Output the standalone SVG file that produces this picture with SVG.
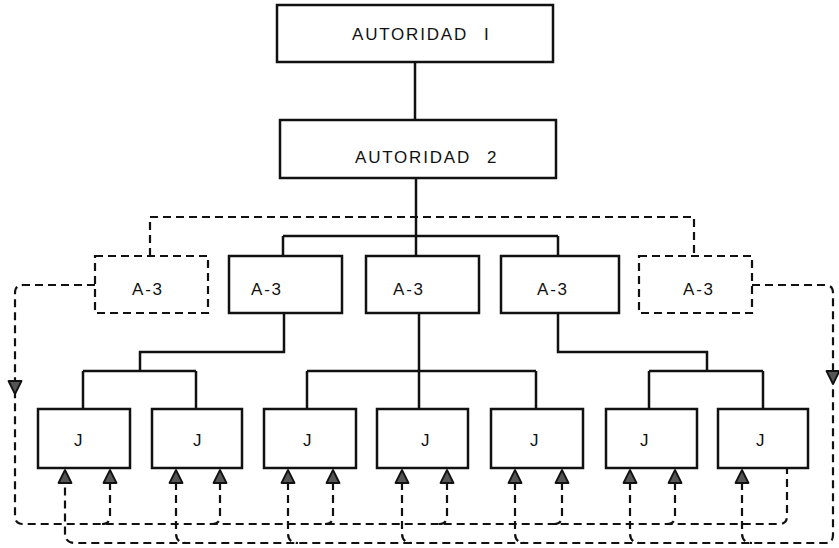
<svg xmlns="http://www.w3.org/2000/svg" width="839" height="548" viewBox="0 0 839 548">
  <style>
    .box { fill: #fff; stroke: #111; stroke-width: 2.5; }
    .dbox { fill: #fff; stroke: #111; stroke-width: 2.2; stroke-dasharray: 8 5; }
    .line { fill: none; stroke: #111; stroke-width: 2.5; }
    .dash { fill: none; stroke: #111; stroke-width: 2.2; stroke-dasharray: 8 5; }
    .lbl { font-family: "Liberation Sans", Arial, sans-serif; font-size: 17px; fill: #111; letter-spacing: 1.8px; }
    .head { fill: #555; stroke: #111; stroke-width: 1.8; stroke-linejoin: round; }
  </style>
  <defs>
    <!-- arrowheads drawn around their tip at (0,0) -->
    <polygon id="up" class="head" points="0,0 -6.5,13 6.5,13"/>
    <polygon id="down" class="head" points="0,0 -6.5,-13 6.5,-13"/>
  </defs>
  <rect width="839" height="548" fill="#fff"/>

  <g id="connectors">
    <!-- solid hierarchy lines -->
    <path class="line" d="M415,62 V120"/>
    <path class="line" d="M416,178 V256"/>
    <path class="line" d="M283,236 H558 M283,236 V256 M558,236 V256"/>
    <path class="line" d="M284,313 V352 H140 V371 M83,371 H196 M83,371 V409 M196,371 V409"/>
    <path class="line" d="M419,313 V409 M307,371 H536 M307,371 V409 M536,371 V409"/>
    <path class="line" d="M558,313 V352 H707 V371 M649,371 H763 M649,371 V409 M763,371 V409"/>
    <!-- dashed staff links -->
    <path class="dash" d="M150,256 V217 H694 V256"/>
    <path class="dash" d="M95,285 H23 Q15,285 15,293 V516 Q15,524 23,524 H779 Q787,524 787,516 V468"/>
    <path class="dash" d="M752,285 H825 Q833,285 833,293 V535 Q833,543 825,543 H75 Q65,543 65,533 V482"/>
    <!-- returns into the J boxes -->
    <path class="dash" d="M110,482 V516 Q110,524 102,524"/>
    <path class="dash" d="M220,482 V516 Q220,524 212,524"/>
    <path class="dash" d="M333,482 V516 Q333,524 325,524"/>
    <path class="dash" d="M447,482 V516 Q447,524 439,524"/>
    <path class="dash" d="M562,482 V516 Q562,524 554,524"/>
    <path class="dash" d="M675,482 V516 Q675,524 667,524"/>
    <path class="dash" d="M176,482 V533 Q176,543 186,543"/>
    <path class="dash" d="M288,482 V533 Q288,543 298,543"/>
    <path class="dash" d="M402,482 V533 Q402,543 412,543"/>
    <path class="dash" d="M515,482 V533 Q515,543 525,543"/>
    <path class="dash" d="M630,482 V533 Q630,543 640,543"/>
    <path class="dash" d="M742,482 V533 Q742,543 752,543"/>
    <!-- arrowheads -->
    <use href="#down" x="15" y="394"/>
    <use href="#down" x="833" y="384"/>
    <use href="#up" x="65" y="470"/>
    <use href="#up" x="110" y="470"/>
    <use href="#up" x="176" y="470"/>
    <use href="#up" x="220" y="470"/>
    <use href="#up" x="288" y="470"/>
    <use href="#up" x="333" y="470"/>
    <use href="#up" x="402" y="470"/>
    <use href="#up" x="447" y="470"/>
    <use href="#up" x="515" y="470"/>
    <use href="#up" x="562" y="470"/>
    <use href="#up" x="630" y="470"/>
    <use href="#up" x="675" y="470"/>
    <use href="#up" x="742" y="470"/>
  </g>

  <g id="autoridad-1">
    <rect class="box" x="277" y="5" width="276" height="57"/>
    <text class="lbl" x="352" y="40">AUTORIDAD<tspan dx="16">I</tspan></text>
  </g>
  <g id="autoridad-2">
    <rect class="box" x="280" y="120" width="276" height="58"/>
    <text class="lbl" x="355" y="163">AUTORIDAD<tspan dx="16">2</tspan></text>
  </g>

  <g id="a3-1">
    <rect class="dbox" x="95" y="256" width="113" height="57"/>
    <text class="lbl" x="132" y="295">A-3</text>
  </g>
  <g id="a3-2">
    <rect class="box" x="229" y="256" width="113" height="57"/>
    <text class="lbl" x="251" y="295">A-3</text>
  </g>
  <g id="a3-3">
    <rect class="box" x="366" y="256" width="113" height="57"/>
    <text class="lbl" x="393" y="295">A-3</text>
  </g>
  <g id="a3-4">
    <rect class="box" x="501" y="256" width="118" height="57"/>
    <text class="lbl" x="537" y="295">A-3</text>
  </g>
  <g id="a3-5">
    <rect class="dbox" x="639" y="256" width="113" height="57"/>
    <text class="lbl" x="683" y="295">A-3</text>
  </g>

  <g id="j-1">
    <rect class="box" x="38" y="409" width="92" height="59"/>
    <text class="lbl" x="74" y="446">J</text>
  </g>
  <g id="j-2">
    <rect class="box" x="152" y="409" width="90" height="59"/>
    <text class="lbl" x="193" y="446">J</text>
  </g>
  <g id="j-3">
    <rect class="box" x="264" y="409" width="92" height="59"/>
    <text class="lbl" x="303" y="446">J</text>
  </g>
  <g id="j-4">
    <rect class="box" x="377" y="409" width="91" height="59"/>
    <text class="lbl" x="421" y="446">J</text>
  </g>
  <g id="j-5">
    <rect class="box" x="491" y="409" width="92" height="59"/>
    <text class="lbl" x="530" y="446">J</text>
  </g>
  <g id="j-6">
    <rect class="box" x="606" y="409" width="91" height="59"/>
    <text class="lbl" x="640" y="446">J</text>
  </g>
  <g id="j-7">
    <rect class="box" x="718" y="409" width="90" height="59"/>
    <text class="lbl" x="756" y="446">J</text>
  </g>
</svg>
